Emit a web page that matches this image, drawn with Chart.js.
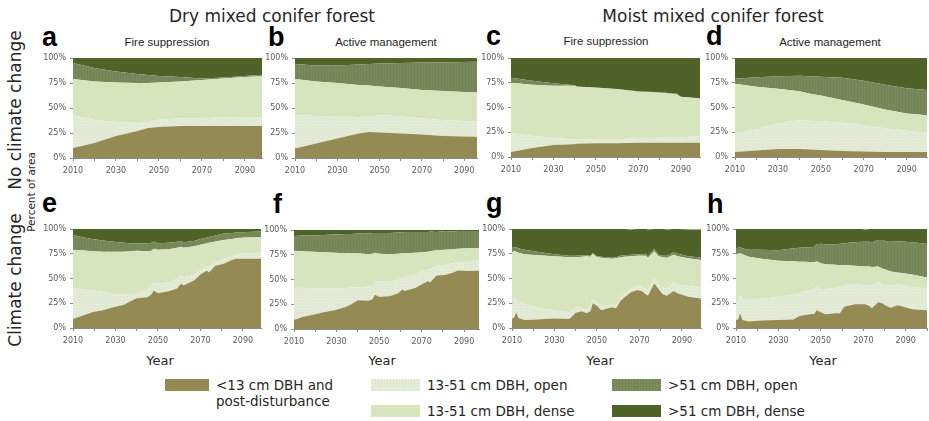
<!DOCTYPE html>
<html>
<head>
<meta charset="utf-8">
<script src="https://cdn.jsdelivr.net/npm/chart.js@4.4.0/dist/chart.umd.min.js"></script>
<style>
  html, body { margin: 0; padding: 0; background: #fff; }
  body { width: 929px; height: 421px; overflow: hidden; position: relative;
         font-family: "DejaVu Sans", Verdana, sans-serif; color: #262626; }
  canvas { position: absolute; }
  .t { position: absolute; white-space: nowrap; transform: translate(-50%, -50%); }
  .rot { position: absolute; white-space: nowrap; transform: translate(-50%, -50%) rotate(-90deg); }
  .sub { font-family: "Liberation Sans", Arial, sans-serif; font-size: 11.5px; }
  .ttl { font-size: 17px; }
  .let { position: absolute; font-family: "Liberation Sans", Arial, sans-serif; font-weight: bold;
         font-size: 27px; line-height: 1; color: #000; }
  .yr { font-size: 13px; }
  .sw { position: absolute; }
  .lg { position: absolute; font-size: 13.5px; line-height: 16px; white-space: nowrap; transform: translateY(-50%); }
</style>
</head>
<body>

<div class="t ttl" style="left:272px;top:16px">Dry mixed conifer forest</div>
<div class="t ttl" style="left:713px;top:16px">Moist mixed conifer forest</div>

<div class="t sub" style="left:167px;top:42px">Fire suppression</div>
<div class="t sub" style="left:386px;top:42px">Active management</div>
<div class="t sub" style="left:606px;top:41px">Fire suppression</div>
<div class="t sub" style="left:830px;top:42px">Active management</div>

<div class="let" style="left:42px;top:24px">a</div>
<div class="let" style="left:268px;top:24px">b</div>
<div class="let" style="left:486px;top:23px">c</div>
<div class="let" style="left:706px;top:23px">d</div>
<div class="let" style="left:42px;top:190px">e</div>
<div class="let" style="left:273px;top:191px">f</div>
<div class="let" style="left:486px;top:190px">g</div>
<div class="let" style="left:707px;top:191px">h</div>

<div class="rot" style="left:15px;top:110px;font-size:17px">No climate change</div>
<div class="rot" style="left:15px;top:280px;font-size:17px">Climate change</div>
<div class="rot" style="left:31px;top:192px;font-size:10.5px">Percent of area</div>

<div class="t yr" style="left:160px;top:360px">Year</div>
<div class="t yr" style="left:382px;top:360px">Year</div>
<div class="t yr" style="left:600px;top:360px">Year</div>
<div class="t yr" style="left:823px;top:360px">Year</div>

<div id="legend"></div>

<script>
// ---- data ----
const classNames = ["<13 cm DBH and post-disturbance", "13-51 cm DBH, open", "13-51 cm DBH, dense",
                    ">51 cm DBH, open", ">51 cm DBH, dense"];

const yearsTop = [2010, 2020, 2030, 2040, 2045, 2050, 2060, 2070, 2080, 2090, 2100];
const yearsMoistTop = [2010, 2020, 2030, 2040, 2041, 2050, 2060, 2070, 2080, 2088, 2090, 2100];
const yearsDryCC = [2010, 2014, 2019, 2024, 2029, 2034, 2037, 2040, 2045, 2047, 2048, 2050, 2055,
                    2059, 2061, 2062, 2067, 2070, 2073, 2074, 2077, 2081, 2085, 2087, 2092, 2100];
const yearsMoistCC = [2010, 2011, 2012, 2013, 2016, 2022, 2030, 2037, 2040, 2043, 2045, 2047, 2048,
                      2050, 2052, 2057, 2059, 2061, 2063, 2066, 2069, 2071, 2073, 2074, 2077, 2079,
                      2081, 2083, 2086, 2088, 2093, 2100];

// a: dry, no climate change, fire suppression
const aSmall  = [10, 15, 22, 27, 30, 31, 32, 32, 32, 32, 32];
const aOpen13 = [33, 23, 14, 8, 6, 7.5, 7.5, 8, 8.5, 9, 9];
const aDense13 = [36, 38.5, 39.5, 40, 39, 37, 37, 38, 39, 40, 41];
const aOpen51 = [16, 13.5, 11, 9, 8, 6.5, 4.5, 1.5, 1, 1, 1.5];
const aDense51 = [5, 10, 13.5, 16, 17, 18, 19, 20.5, 19.5, 18, 16.5];

// b: dry, no climate change, active management
const bSmall  = [9.5, 14.5, 19.5, 24.5, 26, 25.5, 24.5, 23.5, 22, 21.5, 21];
const bOpen13 = [33.5, 27.5, 22, 16.5, 15.5, 17.5, 17, 16, 16, 15.5, 15];
const bDense13 = [36, 34.5, 33.5, 32, 31, 28.5, 28.5, 28.5, 29, 29, 29];
const bOpen51 = [15, 16, 17.5, 20.5, 21.5, 23, 25, 27.5, 28.5, 30, 31.5];
const bDense51 = [6, 7.5, 7.5, 6.5, 6, 5.5, 5, 4.5, 4.5, 4, 3.5];

// c: moist, no climate change, fire suppression
const cSmall  = [5, 9, 12, 13, 13.5, 14, 14, 14.5, 14.5, 14.5, 14.5, 14.5];
const cOpen13 = [19, 12.5, 7.5, 4.5, 4.5, 4, 4, 4.5, 5, 5.5, 5.5, 6.5];
const cDense13 = [51, 51.5, 52.5, 54.5, 53, 52, 50.5, 47, 45.5, 43.5, 40.5, 38];
const cOpen51 = [5, 4, 2.5, 0.5, 0.3, 0.3, 0.3, 0.3, 0.3, 0.3, 0.3, 0.3];
const cDense51 = [20, 23, 25.5, 27.5, 28.7, 29.7, 31.2, 33.7, 34.7, 36.2, 39.2, 40.7];

// d: moist, no climate change, active management
const dSmall  = [5, 6.5, 8, 8, 7.5, 7, 6, 5.5, 5, 5, 5];
const dOpen13 = [19, 21.5, 26, 29, 29, 29, 28.5, 26.5, 24, 21.5, 19.5];
const dDense13 = [50, 43, 35, 29.5, 27.5, 26, 23, 21, 19, 17.5, 17.5];
const dOpen51 = [5, 9.5, 12.5, 15.5, 17.5, 19, 22.5, 24, 25, 25.5, 25.5];
const dDense51 = [21, 19.5, 18.5, 18, 18.5, 19, 20, 23, 27, 30.5, 32.5];

// e: dry, climate change, fire suppression
const eSmall  = [9, 12, 16, 18, 21, 23.5, 27, 30, 31, 34, 38, 35, 37, 40, 45, 43, 48, 54, 58, 56, 63, 65, 69, 70, 70, 70];
const eOpen13 = [32, 27.5, 22, 18.5, 13.5, 10, 7, 5, 8, 8, 8, 10, 9, 9.5, 7.5, 8, 6, 4, 4, 6, 3, 5, 3, 4.5, 5.5, 6.5];
const eDense13 = [38, 39, 39.5, 40.5, 42.5, 43.5, 43.5, 43, 38.5, 36, 34, 34, 33.5, 31.5, 29.5, 30, 28.5, 26, 23.5, 24, 21.5, 19, 18, 16.5, 16, 15.5];
const eOpen51 = [15, 13.5, 12.5, 11.5, 10, 9, 8, 7.5, 8, 8, 7.5, 6.5, 6.5, 6, 5.5, 5.5, 5.5, 6, 6, 6, 6, 6.5, 6, 5.5, 5.5, 5.5];
const eDense51 = [6, 8, 10, 11.5, 13, 14, 14.5, 14.5, 14.5, 14, 12.5, 14.5, 14, 13, 12.5, 13.5, 12, 10, 8.5, 8, 6.5, 4.5, 4, 3.5, 3, 2.5];

// f: dry, climate change, active management
const fSmall  = [9, 12, 14.5, 17, 19, 22, 25, 29, 28.5, 30, 34.5, 32.5, 33, 36, 40, 38.5, 41.5, 45, 48.5, 47, 54, 54.5, 57, 59, 58.5, 59];
const fOpen13 = [33, 29.5, 26.5, 24, 22, 19.5, 17, 13, 14.5, 14, 14, 15.5, 15, 14, 12.5, 14, 13, 13.5, 11.5, 13.5, 10, 10.5, 9.5, 8, 10, 10.5];
const fDense13 = [37, 37, 37, 36.5, 36, 35, 34.5, 34.5, 32.5, 32, 28.5, 28, 27.5, 26, 24, 24, 22.5, 19, 18, 18, 15.5, 15, 14, 14, 13, 12];
const fOpen51 = [15, 16, 16.5, 17.5, 18.5, 19.5, 19.5, 20, 21, 21, 20, 21, 21.5, 21.5, 21, 21.5, 21, 20.5, 20, 20, 18.5, 19, 18, 18, 17.5, 17.5];
const fDense51 = [6, 5.5, 5.5, 5, 4.5, 4, 4, 3.5, 3.5, 3, 3, 3, 3, 2.5, 2.5, 2.5, 2, 2, 2, 1.5, 2, 1.5, 1.5, 1, 1, 1];

// g: moist, climate change, fire suppression
const gSmall  = [9, 10.5, 16, 10, 8, 8.5, 9.5, 9, 15.5, 17, 15, 17, 25, 22.5, 18, 21, 20, 27, 31, 36, 38.5, 37.5, 34, 32.5, 45, 39.5, 34, 32.5, 37.5, 35, 31.5, 29.5];
const gOpen13 = [15, 20.5, 14, 17, 16, 12.5, 8.5, 7, 5.5, 3.5, 3.5, 4, 4.5, 3.5, 5.5, 2, 3.5, 2.5, 3, 4, 4.5, 4.5, 5.5, 5.5, 7, 5, 7, 7.5, 8.5, 9, 11, 11.5];
const gDense13 = [52.5, 46.5, 47, 49, 50.5, 52.5, 54.5, 55.5, 50.5, 51.5, 54, 51, 45.5, 45.5, 47.5, 47, 47, 42, 38, 32.5, 30, 31, 33.5, 33, 25.5, 28, 30.5, 31, 28, 28.5, 28, 27.5];
const gOpen51 = [4.5, 4, 4.5, 4.5, 4.5, 3.5, 2, 1.5, 1.5, 1.5, 1, 1, 1, 1, 1, 1, 1, 1.5, 1.5, 1.5, 1.5, 1.5, 2, 1.5, 2.5, 1.5, 1.5, 2, 2.5, 2.5, 2, 2.5];
const gDense51 = [19, 18.5, 18.5, 19.5, 21, 23, 25.5, 27, 27, 27, 27, 27, 24.5, 27.5, 28, 29.5, 28.5, 27, 26.5, 25.5, 25.5, 25.5, 25.5, 27, 20, 26, 27, 26.5, 23.5, 25, 27, 28.5];

// h: moist, climate change, active management
const hSmall  = [8, 8.5, 15, 8, 6.5, 7.5, 8, 8.5, 12, 13.5, 14, 14.5, 18, 16, 14, 15, 15, 21.5, 22.5, 24, 24, 24, 22, 20, 26, 25, 22, 20.5, 23, 22, 19, 18];
const hOpen13 = [19, 20.5, 18, 20.5, 22, 22, 23.5, 25, 23, 23.5, 24.5, 25.5, 24, 23.5, 25.5, 25.5, 26.5, 22, 21.5, 20.5, 20, 19, 21, 23, 21, 20, 21, 22.5, 21.5, 21.5, 22, 22.5];
const hDense13 = [47.5, 46, 42.5, 46, 43.5, 40.5, 36.5, 34, 32, 30, 28, 26.5, 25.5, 26, 25, 23.5, 22, 20, 19.5, 18.5, 18.5, 19, 19, 18.5, 15, 15, 15.5, 14, 11.5, 12, 13, 10.5];
const hOpen51 = [6, 6, 6, 6, 7, 9, 10.5, 13, 14, 14.5, 15, 15.5, 17, 19.5, 20, 20.5, 21.5, 22, 22.5, 23.5, 24.5, 25, 25, 25, 27, 29, 28.5, 30, 31.5, 32, 32.5, 34];
const hDense51 = [19.5, 19, 18.5, 19.5, 21, 21, 21.5, 19.5, 19, 18.5, 18.5, 18, 15.5, 15, 15.5, 15.5, 15, 14.5, 14, 13.5, 13, 12.5, 13, 13.5, 11, 11, 13, 13, 12.5, 12.5, 13.5, 15];

// ---- styling ----
const axisColor = "#8c8c8c";
const tickColor = "#595959";

function makePattern(bg, fg, kind) {
  const c = document.createElement("canvas");
  c.width = 3; c.height = 3;
  const x = c.getContext("2d");
  x.fillStyle = bg; x.fillRect(0, 0, 3, 3);
  x.fillStyle = fg;
  if (kind === "dots") { x.fillRect(0, 0, 1, 1); x.fillRect(1, 2, 1, 1); }
  else { x.fillRect(0, 0, 1, 3); }
  return x.createPattern(c, "repeat");
}

const fills = [
  "#948a54",
  makePattern("#e4ebd6", "#dbe4ca", "dots"),
  "#d7e4bd",
  makePattern("#79895c", "#738356", "lines"),
  "#4f6228"
];

// plot boxes [left, top, right, bottom] in page pixels
const panels = [
  { years: yearsTop, xMax: 2098, box: [73, 58, 262, 158], s: [aSmall, aOpen13, aDense13, aOpen51, aDense51] },
  { years: yearsTop, xMax: 2096, box: [295, 58, 477, 158], s: [bSmall, bOpen13, bDense13, bOpen51, bDense51] },
  { years: yearsMoistTop, xMax: 2099, box: [511, 58, 700, 157], s: [cSmall, cOpen13, cDense13, cOpen51, cDense51] },
  { years: yearsTop, xMax: 2099.5, box: [735, 58, 927, 157], s: [dSmall, dOpen13, dDense13, dOpen51, dDense51] },
  { years: yearsDryCC, xMax: 2098.5, box: [73, 229, 261, 328], s: [eSmall, eOpen13, eDense13, eOpen51, eDense51] },
  { years: yearsDryCC, xMax: 2097, box: [294, 230, 479, 329], s: [fSmall, fOpen13, fDense13, fOpen51, fDense51] },
  { years: yearsMoistCC, xMax: 2099, box: [512, 229, 701, 328], s: [gSmall, gOpen13, gDense13, gOpen51, gDense51] },
  { years: yearsMoistCC, xMax: 2100, box: [736, 229, 927, 328], s: [hSmall, hOpen13, hDense13, hOpen51, hDense51] }
];

const padL = 40, padT = 10, padR = 6, padB = 24;
const tickFont = { family: "DejaVu Sans", size: 8 };

const createPanel = (p) => {
  const [L, T, R, B] = p.box;
  const cv = document.createElement("canvas");
  cv.width = R - L + padL + padR;
  cv.height = B - T + padT + padB;
  cv.style.left = (L - padL) + "px";
  cv.style.top = (T - padT) + "px";
  document.body.appendChild(cv);

  return new Chart(cv, {
    type: "line",
    data: {
      datasets: p.s.map((vals, k) => ({
        label: classNames[k],
        data: vals.map((v, i) => ({ x: p.years[i], y: v })),
        backgroundColor: fills[k],
        borderColor: "rgba(0,0,0,0)",
        borderWidth: 0,
        pointRadius: 0,
        tension: 0,
        fill: k === 0 ? "origin" : "-1"
      }))
    },
    options: {
      responsive: false,
      animation: false,
      devicePixelRatio: 1,
      layout: { padding: { left: 0, top: padT, right: padR, bottom: 0 } },
      plugins: { legend: { display: false }, tooltip: { enabled: false } },
      scales: {
        x: {
          type: "linear",
          min: 2010,
          max: p.xMax,
          afterFit: (s) => { s.height = padB; },
          ticks: {
            stepSize: 10,
            includeBounds: false,
            autoSkip: false,
            maxRotation: 0,
            padding: 5,
            color: tickColor,
            font: tickFont,
            callback: (v) => ((v - 2010) % 20 === 0 ? String(v) : "")
          },
          grid: { drawOnChartArea: false, tickLength: 3, color: axisColor },
          border: { color: axisColor }
        },
        y: {
          stacked: true,
          min: 0,
          max: 100,
          afterFit: (s) => { s.width = padL; },
          ticks: { stepSize: 25, padding: 4, color: tickColor, font: tickFont, callback: (v) => v + "%" },
          grid: { drawOnChartArea: false, tickLength: 3, color: axisColor },
          border: { color: axisColor }
        }
      }
    }
  });
};

panels.forEach(createPanel);

// ---- legend ----
const legendItems = [
  { x: 165, y: 385, w: 44, lines: ["<13 cm DBH and", "post-disturbance"], css: "background:#948a54" },
  { x: 371, y: 385, w: 49, lines: ["13-51 cm DBH, open"],
    css: "background-color:#e4ebd6;background-image:radial-gradient(#d3dec0 0.7px, transparent 1px);background-size:3px 3px" },
  { x: 371, y: 411, w: 49, lines: ["13-51 cm DBH, dense"], css: "background:#d7e4bd" },
  { x: 612, y: 385, w: 49, lines: [">51 cm DBH, open"],
    css: "background-color:#7b8b5e;background-image:radial-gradient(#66774a 0.7px, transparent 1px);background-size:3px 3px" },
  { x: 612, y: 411, w: 49, lines: [">51 cm DBH, dense"], css: "background:#4f6228" }
];
const lg = document.getElementById("legend");
legendItems.forEach((it) => {
  const sw = document.createElement("div");
  sw.className = "sw";
  sw.style.cssText = `left:${it.x}px;top:${it.y - 6}px;width:${it.w}px;height:12px;${it.css}`;
  lg.appendChild(sw);
  const tx = document.createElement("div");
  tx.className = "lg";
  tx.style.left = (it.x + it.w + 7) + "px";
  tx.style.top = (it.y + (it.lines.length - 1) * 8) + "px";
  tx.innerHTML = it.lines.map((s) => s.replace(/</g, "&lt;").replace(/>/g, "&gt;")).join("<br>");
  lg.appendChild(tx);
});
</script>
</body>
</html>
